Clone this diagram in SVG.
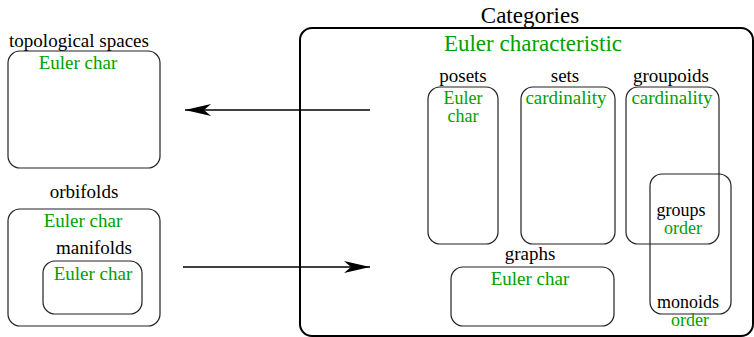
<svg xmlns="http://www.w3.org/2000/svg" width="754" height="337" viewBox="0 0 754 337" font-family="'Liberation Serif', 'Times New Roman', 'DejaVu Serif', serif">
<style>
text{font-family:'Liberation Serif','Times New Roman','DejaVu Serif',serif;font-size:19px;fill:#000;text-anchor:middle}
.g{fill:#00a000}
.big{font-size:23px}
.sm{font-size:18px}
.box{fill:none;stroke:#222;stroke-width:1.2}
.main{fill:none;stroke:#000;stroke-width:2}
.conn{fill:none;stroke:#000;stroke-width:1.3}
</style>
<defs>
<marker id="ah" viewBox="0 0 26 12" refX="26" refY="6" markerWidth="26" markerHeight="12" markerUnits="userSpaceOnUse" orient="auto">
<path d="M0,0 L26,6 L0,12 L7,6 Z" fill="#000"/>
</marker>
</defs>
<rect width="754" height="337" fill="#fff"/>
<g id="categories">
<rect class="main" x="300" y="28" width="453" height="308" rx="12"/>
<text class="big" x="530" y="23">Categories</text>
<text class="g big" x="533" y="51">Euler characteristic</text>
</g>
<g id="topological-spaces">
<rect class="box" x="8" y="51" width="152" height="117" rx="12"/>
<text x="79" y="47">topological spaces</text>
<text class="g" x="78" y="69">Euler char</text>
</g>
<g id="orbifolds">
<rect class="box" x="8" y="209" width="152" height="117" rx="12"/>
<text x="84" y="198">orbifolds</text>
<text class="g" x="83" y="227">Euler char</text>
</g>
<g id="manifolds">
<rect class="box" x="43" y="261" width="99" height="53" rx="12"/>
<text x="94" y="254">manifolds</text>
<text class="g" x="93" y="280">Euler char</text>
</g>
<g id="posets">
<rect class="box" x="428" y="87" width="70" height="157" rx="12"/>
<text x="463" y="82">posets</text>
<text class="g sm" x="463" y="104">Euler</text>
<text class="g sm" x="463" y="122">char</text>
</g>
<g id="sets">
<rect class="box" x="521" y="87" width="94" height="157" rx="12"/>
<text x="565" y="82">sets</text>
<text class="g" x="566" y="104">cardinality</text>
</g>
<g id="groupoids">
<rect class="box" x="626" y="87" width="93" height="157" rx="12"/>
<text x="671" y="82">groupoids</text>
<text class="g" x="672" y="104">cardinality</text>
</g>
<g id="monoids">
<rect class="box" x="650" y="174" width="81" height="140" rx="12"/>
<text class="sm" x="681" y="216">groups</text>
<text class="g sm" x="683" y="234">order</text>
<text class="sm" x="688" y="308">monoids</text>
<text class="g sm" x="690" y="326">order</text>
</g>
<g id="graphs">
<rect class="box" x="451" y="267" width="163" height="59" rx="12"/>
<text x="530" y="260">graphs</text>
<text class="g" x="530" y="285">Euler char</text>
</g>
<g id="connectors">
<line class="conn" x1="370" y1="110" x2="185" y2="110" marker-end="url(#ah)"/>
<line class="conn" x1="183" y1="267" x2="370" y2="267" marker-end="url(#ah)"/>
</g>
</svg>
